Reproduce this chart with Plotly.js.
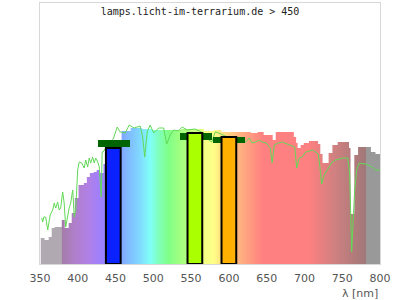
<!DOCTYPE html>
<html>
<head>
<meta charset="utf-8">
<script src="https://cdn.plot.ly/plotly-3.0.1.min.js"></script>
<style>html,body{margin:0;padding:0;background:#fff}#chart{width:400px;height:300px}</style>
</head>
<body>
<div id="chart"></div>
<script>
// Reference spectrum (filled, step) : wavelength [nm] and relative level
const refLambda = [351,356,361.5,365.5,369.5,378.7,382.7,388,392,396,401,408,412,416,421,425,429,434,445,458,470,485,498,516,530,537,567,580,590,629,638,646,658,662,686,689,691,695,699,706,718,721,724,732,737,744,759,761,766,771,788,794,800];
const refLevel  = [26,24,27,36,37,44,36,41,51,66,79,81,87,91,92,94,91,100,120,133,136,135,134,134,134,135,133,134,132,131,132,129,124,132,127,121,116,119,121,123,120,110,101,111,119,122,116,50,109,117,112,110,110];

// Lamp spectrum (green line)
const lampLambda = [352.2,353.6,355,357.5,360.2,363.5,366.8,368.8,370.8,373.4,375.4,377.4,380,382,384,386.7,388.6,390.6,393.3,395.3,397.2,399.9,401.9,405.2,408.5,410.5,413.1,415.1,417.1,419.7,421.7,423.7,426.4,428.4,431,432.3,433.6,440,447,452.2,456.1,462.8,468.1,474.7,482.6,485.9,488.6,491.9,495.8,500.5,507.1,513.7,517.7,522.3,527,532.9,538.2,545,555,566.7,569.3,573.3,577.3,581.9,586.5,595,605,614.3,622.2,626.9,630.8,635.5,640.1,644.1,649.4,654.7,657.3,660,665.3,670.6,679.2,687.1,689.8,693.1,697,701.7,710.9,718.2,720.2,722.8,726.1,730.1,733.4,736.7,741.4,750.6,757.2,759.8,762.5,764.5,766.5,769.1,772.5,781.1,789.7,794.3,800];
const lampLevel  = [46,42,47,47,34,49,54,61,56,62,54,56,72,61,37,51,56,61,74,47,54,94,102,101,96,104,97,106,101,107,101,106,102,97,67,112,112,120,125,137,132,131,139,136,138,127,107,132,139,131,136,136,120,129,134,133,137,134,135,131,128,124,122,132,131,128,126,124,122,126,121,122,124,122,121,116,101,119,121,122,119,117,96,106,107,112,114,110,99,80,89,94,97,102,104,106,106,91,12,44,74,94,101,100,97,94,94];

// LED bars
const ledLambda = [447, 555, 600];
const ledLevel  = [116, 131, 127];
const ledColors = ['#0a22ff', '#aaff00', '#ffb000'];
// dark green reference markers
const markLambda = [447.5, 556, 600];
const markBase   = [117, 124, 120.7];
const markTop    = [124, 131.3, 127.3];

const markHeight = markTop.map((t, i) => t - markBase[i]);

// colour stops of the wavelength gradient (style)
const stopNm  = [350,378.4,378.8,395,415,432,450,462,480,496,508,520,535,555,568,580,590,605,615,630,645,705,740,781.3,781.8,800];
const stopCol = ['#b0a9b1','#b0a9b1','#a47ca8','#b07fc8','#b080e8','#9c80ff','#8090ff','#80b0ff','#80d4ff','#80fff8','#80ffb8','#80ff88','#a0ff80','#ccff80','#f4ff84','#ffff88','#ffe080','#ffc880','#ffb080','#ff9880','#ff8080','#ff8080','#d08080','#a07878','#999999','#999999'];
const colorscale = stopNm.map((n, i) => [(n - 350) / 450, stopCol[i]]);

const traces = [
  {
    type: 'scatter', mode: 'lines', x: refLambda, y: refLevel,
    line: {shape: 'hv', width: 0, color: 'rgba(0,0,0,0)'},
    fill: 'tozeroy',
    fillgradient: {type: 'horizontal', colorscale: colorscale, start: 350, stop: 800},
    hoverinfo: 'skip', showlegend: false
  },
  {
    type: 'scatter', mode: 'lines', x: lampLambda, y: lampLevel,
    line: {color: '#62d957', width: 1},
    showlegend: false
  },
  {
    type: 'bar', x: markLambda, y: markHeight, base: markBase, width: 42,
    xaxis: 'x2', yaxis: 'y2',
    marker: {color: '#006400', line: {width: 0}},
    showlegend: false
  },
  {
    type: 'bar', x: ledLambda, y: ledLevel, base: 0, width: 19.5,
    xaxis: 'x2', yaxis: 'y2',
    marker: {color: ledColors, line: {color: '#000', width: 2}},
    showlegend: false
  }
];

const layout = {
  width: 400, height: 300,
  margin: {l: 40, r: 20, t: 3, b: 36},
  paper_bgcolor: '#fff', plot_bgcolor: '#fff',
  barmode: 'overlay', bargap: 0,
  showlegend: false,
  title: {
    text: 'lamps.licht-im-terrarium.de &gt; 450',
    font: {family: 'DejaVu Sans Mono, monospace', size: 10, color: '#222'},
    x: 0.5, xref: 'container', xanchor: 'center',
    y: 1 - 11 / 300, yref: 'container', yanchor: 'middle'
  },
  xaxis: {
    range: [350, 800], tickmode: 'linear', tick0: 350, dtick: 50,
    showgrid: false, zeroline: false,
    showline: true, mirror: true, linecolor: '#d8d8d8', linewidth: 1,
    ticks: 'outside', ticklen: 4, tickcolor: 'rgba(0,0,0,0)',
    tickfont: {family: 'DejaVu Sans, sans-serif', size: 11, color: '#555'}
  },
  yaxis: {
    range: [0, 261], showticklabels: false, showgrid: false, zeroline: false,
    showline: true, mirror: true, linecolor: '#d8d8d8', linewidth: 1, ticks: ''
  },
  xaxis2: {
    overlaying: 'x', anchor: 'y2', range: [350, 800], visible: false,
    showgrid: false, zeroline: false
  },
  yaxis2: {
    overlaying: 'y', anchor: 'x2', range: [0, 261], visible: false,
    showgrid: false, zeroline: false
  },
  annotations: [{
    text: 'λ [nm]', xref: 'paper', yref: 'paper', x: 1, xanchor: 'right',
    y: -(293 - 264) / 261, yanchor: 'middle', showarrow: false,
    font: {family: 'DejaVu Sans, sans-serif', size: 11, color: '#555'}
  }]
};

Plotly.newPlot('chart', traces, layout, {staticPlot: true, displayModeBar: false});
</script>
</body>
</html>
